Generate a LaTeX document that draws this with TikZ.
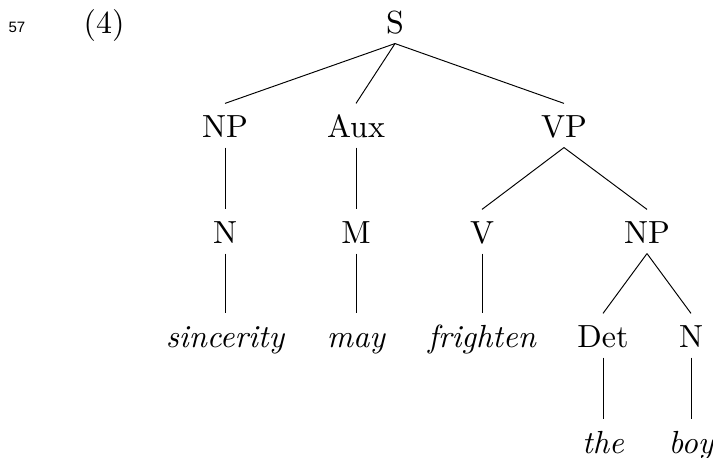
\documentclass[tikz,border=0pt]{standalone}
\usepackage{fontspec}
\newfontfamily\linenofont{Liberation Sans}
\begin{document}
\begin{tikzpicture}[x=0.3125pt,y=-0.3125pt,
  lbl/.style={anchor=base, inner xsep=0pt, inner ysep=1pt,
              text height=9.3pt, text depth=2.1pt},
  leaf/.style={lbl, font=\itshape},
  branch/.style={line width=0.3pt}]
\useasboundingbox (0,0) rectangle (713,457);

% line number and example number
\node[anchor=base, inner sep=0pt, font=\linenofont\fontsize{4.7}{5}\selectfont] (lineno) at (17,32) {57};
\node[anchor=base, inner sep=0pt] (exno) at (104,33) {(4)};

% tree nodes, placed on their baselines
\node[lbl] (s)    at (395,33)  {S};
\node[lbl] (np)   at (225,137) {NP};
\node[lbl] (aux)  at (356,137) {Aux};
\node[lbl] (vp)   at (564,137) {VP};
\node[lbl] (n)    at (225,243) {N};
\node[lbl] (m)    at (356,243) {M};
\node[lbl] (v)    at (482,243) {V};
\node[lbl] (np2)  at (647,243) {NP};
\node[leaf] (sinc) at (225,347) {sincerity};
\node[leaf] (may)  at (356,347) {may};
\node[leaf] (fri)  at (482,347) {frighten};
\node[lbl] (det)  at (603,347) {Det};
\node[lbl] (n2)   at (691,347) {N};
\node[leaf] (the)  at (603,453) {the};
\node[leaf] (boy)  at (691,453) {boy};

% branches
\draw[branch] (s.south) -- (np.north);
\draw[branch] (s.south) -- (aux.north);
\draw[branch] (s.south) -- (vp.north);
\draw[branch] (np.south) -- (n.north);
\draw[branch] (aux.south) -- (m.north);
\draw[branch] (vp.south) -- (v.north);
\draw[branch] (vp.south) -- (np2.north);
\draw[branch] (n.south) -- (sinc.north);
\draw[branch] (m.south) -- (may.north);
\draw[branch] (v.south) -- (fri.north);
\draw[branch] (np2.south) -- (det.north);
\draw[branch] (np2.south) -- (n2.north);
\draw[branch] (det.south) -- (the.north);
\draw[branch] (n2.south) -- (boy.north);
\end{tikzpicture}
\end{document}
